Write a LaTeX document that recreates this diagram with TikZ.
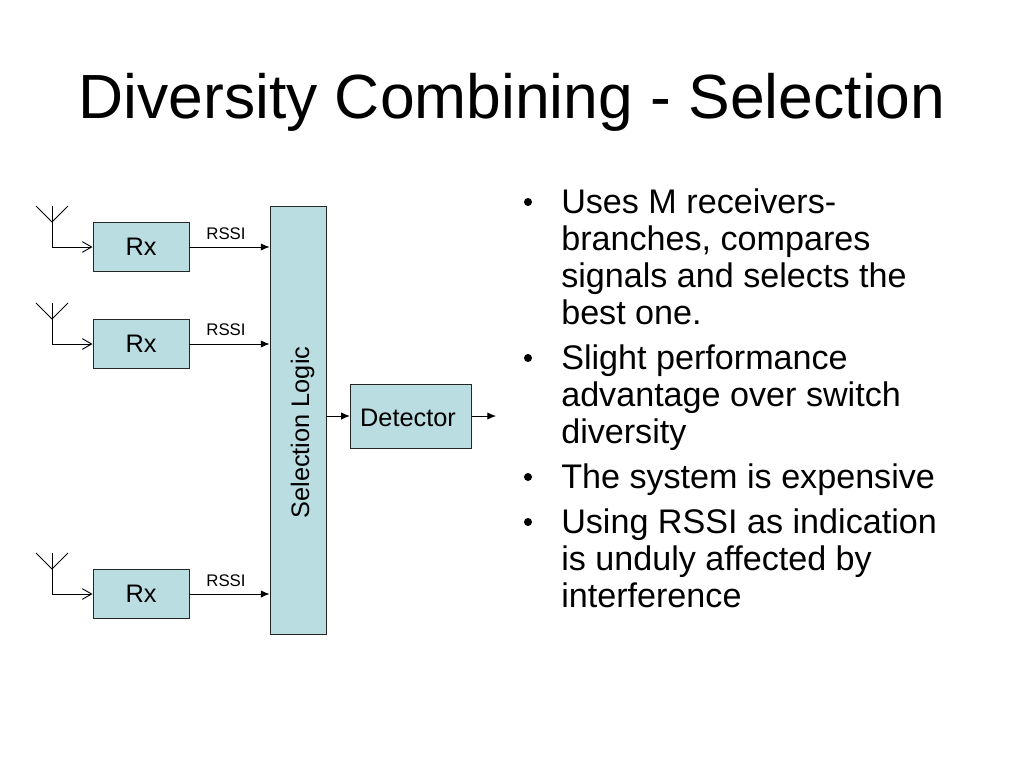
\documentclass[tikz,border=0pt]{standalone}
\usepackage{fontspec}
\setmainfont{Liberation Sans}
\usetikzlibrary{arrows.meta}
\definecolor{boxfill}{HTML}{B9DDE1}
\tikzset{
  blockbox/.style={draw=black!85, line width=0.7pt, fill=boxfill, inner sep=0pt},
  blocktext/.style={font=\fontsize{19}{22}\selectfont},
  rssilabel/.style={font=\fontsize{12.6}{14}\selectfont, inner sep=0pt},
  bullettext/.style={anchor=north west, align=left, inner sep=0pt, font=\fontsize{25.6}{27.75}\selectfont},
  bulletdot/.style={inner sep=0pt, circle, fill=black, minimum size=6pt},
  feed/.style={line width=0.7pt, -{Straight Barb[length=7pt,width=8pt]}},
  link/.style={line width=0.7pt, -{Latex[length=6.5pt,width=5.5pt]}},
  aerial/.style={line width=0.7pt}
}
\begin{document}
\begin{tikzpicture}[x=0.75pt,y=-0.75pt]
\useasboundingbox (0,0) rectangle (1024,768);
\fill[white] (0,0) rectangle (1024,768);
%% title
\node[inner sep=0pt, font=\fontsize{46.8}{54}\selectfont] (title) at (512,102) {Diversity Combining - Selection};
%% blocks
\node[blockbox, minimum width=42pt, minimum height=321pt] (logic) at (298,420) {};
\node[rotate=90, blocktext, inner sep=0pt] (logictext) at (302.5,432.5) {Selection Logic};
\node[blockbox, blocktext, minimum width=72pt, minimum height=36.5pt] (rxa) at (141,247) {\raisebox{-1pt}{Rx}};
\node[blockbox, blocktext, minimum width=72pt, minimum height=36.5pt] (rxb) at (141,344) {\raisebox{-1pt}{Rx}};
\node[blockbox, blocktext, minimum width=72pt, minimum height=36.5pt] (rxc) at (141,594) {\raisebox{-1pt}{Rx}};
\node[blockbox, minimum width=91pt, minimum height=48pt] (det) at (411,416) {};
\node[blocktext, inner sep=0pt] (dettext) at (408,418) {Detector};
%% antennas
\foreach \name/\ypos in {rxa/247,rxb/344,rxc/594}{
  \coordinate (\name-foot) at (52,\ypos);
  \coordinate (\name-top) at (52,\ypos-41);
  \coordinate (\name-mid) at (52,\ypos-25);
  \coordinate (\name-l) at (36,\ypos-41);
  \coordinate (\name-r) at (68,\ypos-41);
  \draw[feed] (\name-top) -- (\name-foot) -- (\name.west);
  \draw[aerial] (\name-l) -- (\name-mid) -- (\name-r);
}
%% rssi
\coordinate (logica) at (logic.west |- rxa);
\coordinate (logicb) at (logic.west |- rxb);
\coordinate (logicc) at (logic.west |- rxc);
\draw[link] (rxa.east) -- (logica);
\draw[link] (rxb.east) -- (logicb);
\draw[link] (rxc.east) -- (logicc);
\node[rssilabel] (rssia) at (226,234) {RSSI};
\node[rssilabel] (rssib) at (226,330) {RSSI};
\node[rssilabel] (rssic) at (226,581) {RSSI};
%% output
\coordinate (logicd) at (logic.east |- det);
\coordinate (out) at (496,416);
\draw[link] (logicd) -- (det.west);
\draw[link] (det.east) -- (out);
%% bullets
\node[bulletdot] (dota) at (528,202) {};
\node[bullettext] (texta) at (561,188) {Uses M receivers-\\branches, compares\\signals and selects the\\best one.};
\node[bulletdot] (dotb) at (528,358) {};
\node[bullettext] (textb) at (561,344) {Slight performance\\advantage over switch\\diversity};
\node[bulletdot] (dotc) at (528,477) {};
\node[bullettext] (textc) at (561,463) {The system is expensive};
\node[bulletdot] (dotd) at (528,522) {};
\node[bullettext] (textd) at (561,508) {Using RSSI as indication\\is unduly affected by\\interference};
\end{tikzpicture}
\end{document}
